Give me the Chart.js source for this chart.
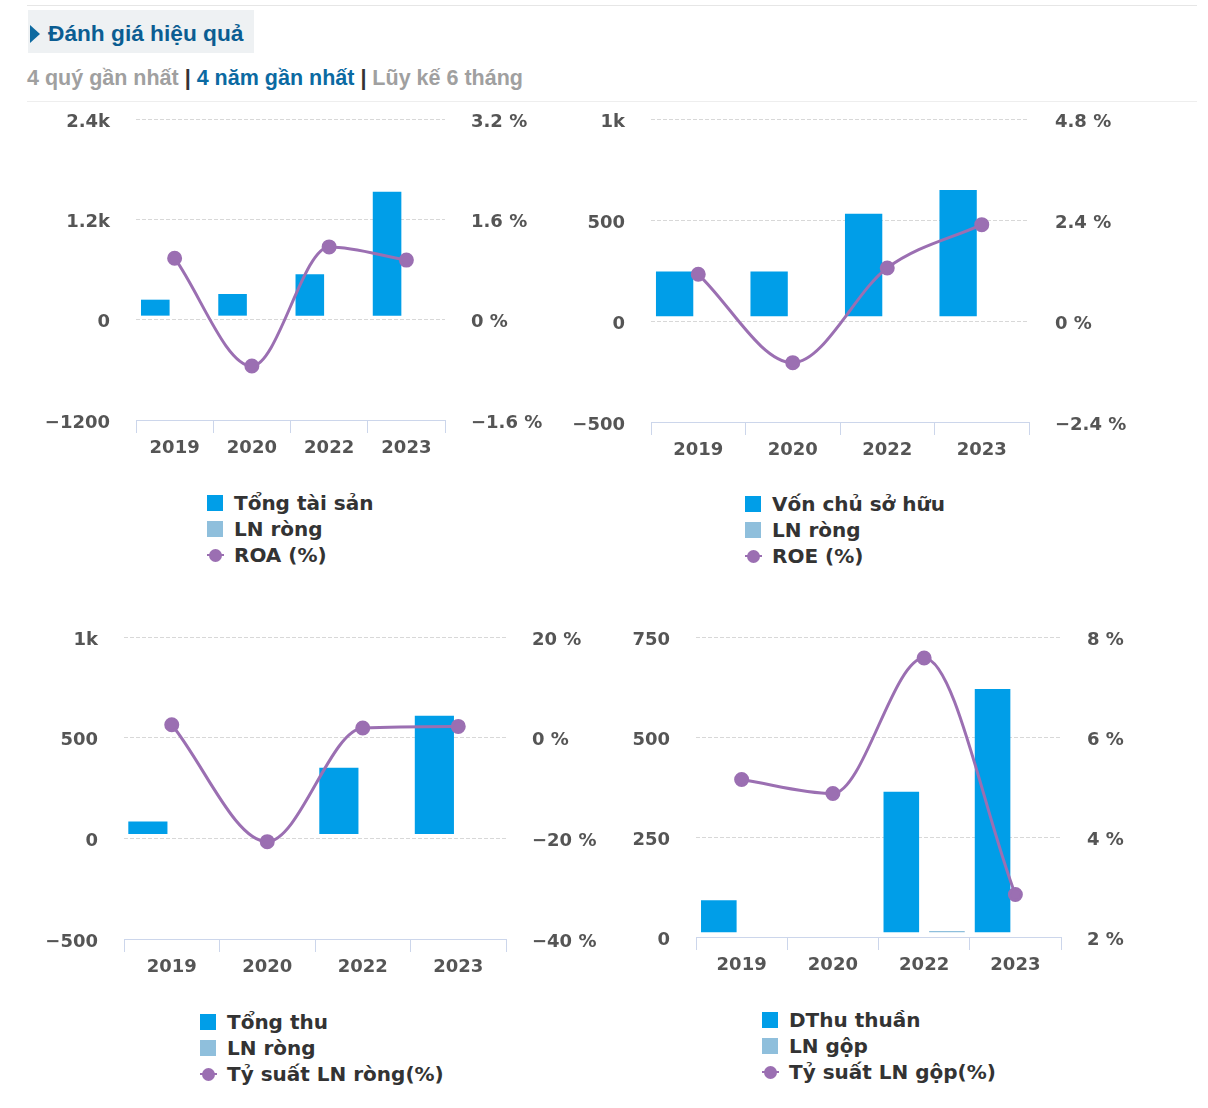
<!DOCTYPE html>
<html>
<head>
<meta charset="utf-8">
<script src="https://cdn.jsdelivr.net/npm/chart.js@4.4.1/dist/chart.umd.min.js"></script>
<style>
    body { margin: 0; background: #fff; width: 1208px; height: 1108px; position: relative; overflow: hidden; font-family: "Liberation Sans", Arial, sans-serif; }
    .hline { position: absolute; left: 27px; width: 1170px; height: 1px; }
    .head { position: absolute; left: 28px; top: 10px; width: 226px; height: 43px; background: #eef1f3; }
    .head .tri { position: absolute; left: 2px; top: 15px; width: 0; height: 0; border-top: 9px solid transparent; border-bottom: 9px solid transparent; border-left: 10px solid #0e6aa0; }
    .head .title { position: absolute; left: 20px; top: 12px; font-weight: bold; font-size: 22.7px; line-height: 22px; color: #0b5d92; white-space: nowrap; }
    .tabs { position: absolute; left: 27px; top: 68px; font-weight: bold; font-size: 21.5px; line-height: 21.5px; color: #a0a0a0; white-space: nowrap; }
    .tabs .on { color: #0b6aa2; }
    .tabs .sep { color: #333; }
    canvas { position: absolute; }
    .legend { position: absolute; font-family: "DejaVu Sans", sans-serif; font-weight: bold; font-size: 20px; color: #333; }
    .legend .row { position: relative; height: 26px; line-height: 26px; padding-left: 27px; white-space: nowrap; }
    .legend .sq { position: absolute; left: 0; top: 5px; width: 16px; height: 16px; }
    .legend .ln { position: absolute; left: 0; top: 12px; width: 17px; height: 2px; }
    .legend .dot { position: absolute; left: 2px; top: 7px; width: 13px; height: 13px; border-radius: 50%; }
</style>
</head>
<body>
<div class="hline" style="top:5px;background:#e6e6e6"></div>
<div class="head"><div class="tri"></div><div class="title">Đánh giá hiệu quả</div></div>
<div class="tabs">4 quý gần nhất <span class="sep">|</span> <span class="on">4 năm gần nhất</span> <span class="sep">|</span> Lũy kế 6 tháng</div>
<div class="hline" style="top:101px;background:#eeeeee"></div>

<canvas id="c1" width="560" height="360" style="left:20px;top:100px"></canvas>
<canvas id="c2" width="620" height="360" style="left:560px;top:100px"></canvas>
<canvas id="c3" width="600" height="360" style="left:10px;top:618px"></canvas>
<canvas id="c4" width="590" height="360" style="left:610px;top:618px"></canvas>
<div class="legend" id="l1" style="left:207px;top:490px"></div>
<div class="legend" id="l2" style="left:745px;top:491px"></div>
<div class="legend" id="l3" style="left:200px;top:1009px"></div>
<div class="legend" id="l4" style="left:762px;top:1007px"></div>

<script>
const years = ['2019', '2020', '2022', '2023'];

// Tổng tài sản / LN ròng / ROA
const tongTaiSan = [239, 307, 542, 1531];
const lnRong1 = [null, null, null, null];
const roa = [0.98, -0.74, 1.16, 0.95];
const ticks1Left = [-1200, 0, 1200, 2400];
const ticks1Right = [-1.6, 0, 1.6, 3.2];
const base1 = 48;

// Vốn chủ sở hữu / LN ròng / ROE
const vonCSH = [245, 245, 531, 648];
const lnRong2 = [null, null, null, null];
const roe = [1.11, -0.99, 1.26, 2.29];
const ticks2Left = [-500, 0, 500, 1000];
const ticks2Right = [-2.4, 0, 2.4, 4.8];
const base2 = 23;

// Tổng thu / LN ròng / Tỷ suất LN ròng
const tongThu = [84, null, 351, 609];
const lnRong3 = [null, null, null, null];
const tsLnRong = [2.57, -20.66, 1.91, 2.24];
const ticks3Left = [-500, 0, 500, 1000];
const ticks3Right = [-40, -20, 0, 20];
const base3 = 21;

// DThu thuần / LN gộp / Tỷ suất LN gộp
const dthuThuan = [92, null, 363, 620];
const lnGop = [null, null, 15, null];
const tsLnGop = [5.15, 4.87, 7.58, 2.85];
const ticks4Left = [0, 250, 500, 750];
const ticks4Right = [2, 4, 6, 8];
const base4 = 12;

const BLUE = '#009ee8';
const LIGHT = '#8fbfdc';
const PURPLE = '#9b6fb2';
const tickFont = { family: 'DejaVu Sans', size: 18, weight: 'bold' };
const tickColor = '#555';

function fmtLeft(v) {
    if (v >= 1000) return (v / 1000) + 'k';
    if (v < 0) return '\u2212' + (-v);
    return String(v);
}

function fmtRight(v) {
    return (v < 0 ? '\u2212' + (-v) : String(v)) + ' %';
}

function makeChart(id, legendId, p) {
    const chart = new Chart(document.getElementById(id), {
        data: {
            labels: years,
            datasets: [
                { type: 'bar', label: p.names[0], data: p.bar, base: p.base, backgroundColor: BLUE,
                  barPercentage: p.bp, categoryPercentage: 1, order: 1 },
                { type: 'bar', label: p.names[1], data: p.ln, base: p.base, backgroundColor: LIGHT,
                  barPercentage: p.bp, categoryPercentage: 1, order: 1 },
                { type: 'line', label: p.names[2], data: p.line, yAxisID: 'y1',
                  borderColor: PURPLE, backgroundColor: PURPLE, borderWidth: 3,
                  pointRadius: 6, pointHoverRadius: 6, cubicInterpolationMode: 'monotone', order: 0 }
            ]
        },
        options: {
            responsive: false,
            animation: false,
            devicePixelRatio: 1,
            layout: { padding: { top: 19, left: 0, right: 0, bottom: 0 } },
            plugins: { legend: { display: false }, tooltip: { enabled: false } },
            scales: {
                x: {
                    offset: true,
                    grid: { offset: true, drawOnChartArea: false, drawTicks: true, tickLength: 13, color: '#ccd6eb' },
                    border: { display: true, color: '#ccd6eb' },
                    ticks: { font: tickFont, color: tickColor, padding: 5, maxRotation: 0 },
                    afterFit: s => { s.height = p.xH; }
                },
                y: {
                    position: 'left',
                    min: p.left[0], max: p.left[p.left.length - 1],
                    afterBuildTicks: s => { s.ticks = p.left.map(v => ({ value: v })); },
                    ticks: { font: tickFont, color: tickColor, padding: 0, labelOffset: 3, callback: fmtLeft },
                    grid: { drawTicks: true, tickLength: 26, tickColor: 'rgba(0,0,0,0)',
                            color: ctx => ctx.index === 0 ? 'rgba(0,0,0,0)' : '#d8d8d8' },
                    border: { display: false, dash: [4, 2] },
                    afterFit: s => { s.width = p.lw; }
                },
                y1: {
                    position: 'right',
                    min: p.right[0], max: p.right[p.right.length - 1],
                    afterBuildTicks: s => { s.ticks = p.right.map(v => ({ value: v })); },
                    ticks: { font: tickFont, color: tickColor, padding: 0, labelOffset: 3, callback: fmtRight },
                    grid: { drawOnChartArea: false, drawTicks: true, tickLength: 26, tickColor: 'rgba(0,0,0,0)' },
                    border: { display: false },
                    afterFit: s => { s.width = p.rw; }
                }
            }
        }
    });

    // legend as a vertical list, built from the chart's datasets
    const box = document.getElementById(legendId);
    chart.data.datasets.forEach(ds => {
        const row = document.createElement('div');
        row.className = 'row';
        if (ds.type === 'bar') {
            row.innerHTML = '<span class="sq" style="background:' + ds.backgroundColor + '"></span>';
        } else {
            row.innerHTML = '<span class="ln" style="background:' + ds.borderColor + '"></span>' +
                '<span class="dot" style="background:' + ds.borderColor + '"></span>';
        }
        row.appendChild(document.createTextNode(ds.label));
        box.appendChild(row);
    });
    return chart;
}

makeChart('c1', 'l1', {
    names: ['Tổng tài sản', 'LN ròng', 'ROA (%)'],
    bar: tongTaiSan, ln: lnRong1, line: roa, base: base1,
    left: ticks1Left, right: ticks1Right,
    lw: 116, rw: 135, xH: 40, bp: 0.74
});
makeChart('c2', 'l2', {
    names: ['Vốn chủ sở hữu', 'LN ròng', 'ROE (%)'],
    bar: vonCSH, ln: lnRong2, line: roe, base: base2,
    left: ticks2Left, right: ticks2Right,
    lw: 91, rw: 151, xH: 38, bp: 0.79
});
makeChart('c3', 'l3', {
    names: ['Tổng thu', 'LN ròng', 'Tỷ suất LN ròng(%)'],
    bar: tongThu, ln: lnRong3, line: tsLnRong, base: base3,
    left: ticks3Left, right: ticks3Right,
    lw: 114, rw: 104, xH: 39, bp: 0.82
});
makeChart('c4', 'l4', {
    names: ['DThu thuần', 'LN gộp', 'Tỷ suất LN gộp(%)'],
    bar: dthuThuan, ln: lnGop, line: tsLnGop, base: base4,
    left: ticks4Left, right: ticks4Right,
    lw: 86, rw: 139, xH: 41, bp: 0.78
});
</script>
</body>
</html>
